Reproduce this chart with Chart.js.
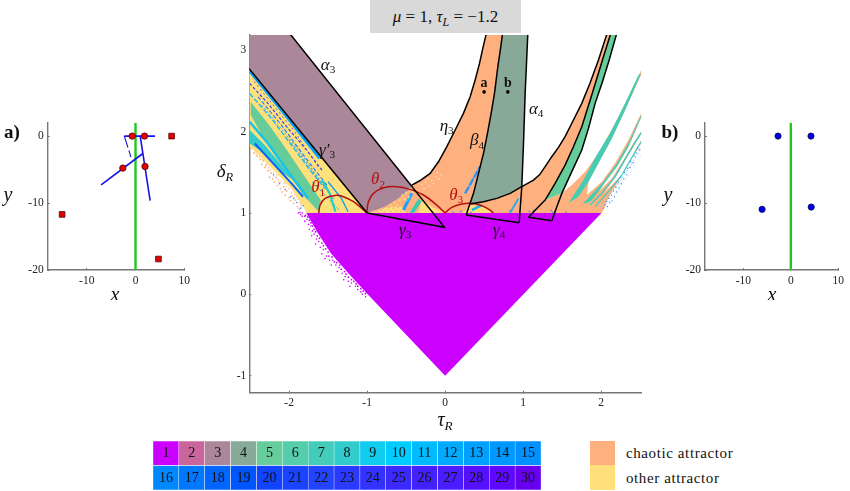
<!DOCTYPE html>
<html><head><meta charset="utf-8">
<script src="https://cdn.jsdelivr.net/npm/chart.js@4"></script>
<style>
html,body{margin:0;padding:0;background:#fff;width:850px;height:491px;overflow:hidden}
canvas{position:absolute;display:block}
.t{position:absolute;font-family:"Liberation Serif",serif;color:#111;white-space:nowrap}
#title{left:370px;top:0;width:151px;height:33px;background:#d9d9d9;font-size:17px;line-height:33px;text-align:center}
#title sub{font-size:12px;line-height:0}
</style></head><body>
<div class="t" id="title"><i>μ</i> = 1, <i>τ<sub>L</sub></i> = −1.2</div>
<canvas id="main" width="450" height="440" style="left:200px;top:0"></canvas>
<canvas id="pa" width="200" height="200" style="left:0;top:100px"></canvas>
<canvas id="pb" width="200" height="200" style="left:650px;top:100px"></canvas>
<canvas id="cells" width="388" height="49" style="left:153px;top:441px"></canvas>
<canvas id="swatch" width="25" height="49" style="left:590px;top:441px"></canvas>
<div class="t" style="left:626px;top:444px;font-size:15px;letter-spacing:.6px;line-height:18px">chaotic attractor</div>
<div class="t" style="left:626px;top:469px;font-size:15px;letter-spacing:.6px;line-height:18px">other attractor</div>
<script>
// ---------- legend
const cellRow1 = [1,2,3,4,5,6,7,8,9,10,11,12,13,14,15];
const cellRow2 = [16,17,18,19,20,21,22,23,24,25,26,27,28,29,30];
const colorsRow1 = ['#cc00ff','#c9669c','#aa8899','#88aa99','#66cc99','#55ccaa','#44ccbb','#33cccc','#11ccee','#00ccff','#00bbff','#00aaff','#00a0ff','#0099ff','#0090ff'];
const colorsRow2 = ['#0088ff','#0077ff','#0066ff','#0055ff','#1144ff','#1a44ff','#2244ff','#2a3aff','#3333ff','#3a2aff','#4422ff','#4a1cff','#5511ff','#5e08ff','#6600ee'];
const ORANGE='#ffb07f', YELLOW='#ffe07a', MAUVE='#aa8799', SAGE='#88a898', GREEN='#66cc99', TEAL='#44ccb4', PURPLE='#cc00ff';
// ---------- axes
const tauTicks=[-2,-1,0,1,2], deltaTicks=[-1,0,1,2,3];
const xTicksPanel=[-10,0,10], yTicksPanel=[-20,-10,0];
// ---------- boundary curves [tau, delta]
const curveGammaPrime=[[-2.52,2.785],[-1,1]];
const curveAlpha3=[[-1.985,3.2],[-.008,.824],[-1,1]];
const curveEta=[[-.427,1.344],[-.32,1.4],[-.192,1.488],[-.085,1.631],[.022,1.816],[.129,2.021],[.235,2.226],[.321,2.431],[.385,2.636],[.441,2.841],[.483,3.025],[.526,3.2]];
const curveBeta=[[.27,.975],[.312,1.098],[.364,1.242],[.428,1.488],[.492,1.734],[.543,1.98],[.59,2.226],[.633,2.472],[.676,2.8],[.714,3.046],[.735,3.2]];
const curveAlpha4=[[.949,.881],[.983,1.324],[1.005,1.857],[1.026,2.472],[1.047,2.923],[1.06,3.2]];
const curveOne=[[.321,1.111],[.492,1.14],[.663,1.18],[.834,1.242],[.983,1.324],[1.133,1.406],[1.21,1.47],[1.282,1.57],[1.367,1.693],[1.453,1.808],[1.538,1.939],[1.645,2.144],[1.752,2.349],[1.859,2.603],[1.966,2.882],[2.073,3.2]];
const curveTwo=[[1.069,.947],[1.175,1.055],[1.282,1.16],[1.41,1.365],[1.538,1.59],[1.645,1.816],[1.752,2.062],[1.88,2.451],[2.017,2.882],[2.12,3.2]];
const curveThree=[[1.368,.906],[1.432,1.078],[1.496,1.242],[1.624,1.509],[1.752,1.775],[1.838,2.041],[1.923,2.349],[2.017,2.615],[2.103,2.882],[2.197,3.2]];
const baseGamma4=[[.27,.975],[.949,.881]];
const baseTrapezoid=[[1.069,.947],[1.368,.906]];
const arcTheta1=[[-1.619,1],[-1.602,1.098],[-1.538,1.18],[-1.41,1.217],[-1.303,1.201],[-1.175,1.139],[-1.068,1.058],[-1.004,1]];
const arcTheta2=[[-1.004,1],[-.983,1.139],[-.919,1.242],[-.79,1.312],[-.619,1.324],[-.449,1.291],[-.278,1.222],[-.107,1.098],[0,1]];
const arcTheta3=[[0,1],[.086,1.07],[.214,1.111],[.342,1.119],[.47,1.09],[.556,1.049],[.62,1]];
const pointsAB=[[.5,2.49],[.804,2.49]];
// ---------- main regions
const regionPurple=[[-1.78,1],[2.005,1],[0,-1],[-.98,-.01],[-1.24,.26],[-1.46,.5],[-1.63,.75]];
const regionWedge=[[-2.513,2.771],[-1,1],[-1.778,1],[-1.82,1.09],[-1.97,1.3],[-2.27,1.6],[-2.505,1.82]];
const edgeMauve=[[-1,1],[-.77,1.077],[-.6,1.18],[-.43,1.31]];
const regionMauve=[[-2.52,3.2],[-1.985,3.2],[-.427,1.344],[-.43,1.31],[-.6,1.18],[-.77,1.077],[-1,1],[-2.52,2.785]];
const regionOrangeA=edgeMauve.concat(curveEta,curveBeta.slice(1).reverse(),[[.29,1]]);
const regionOrangeB=[[.29,1]].concat(curveOne,curveTwo.slice(1).reverse(),[[1.115,1]]);
const regionSage=curveOne.slice(0,5).concat(curveAlpha4.slice(2),curveBeta.slice(2).reverse());
const regionGreen=curveTwo.slice(2).concat(curveThree.slice(2).reverse());
const regionFan=[[1.115,1],[1.282,1.16],[1.496,1.242],[1.624,1.344],[1.795,1.509],[1.966,1.734],[2.179,2.103],[2.35,2.431],[2.513,2.759],[2.513,2.697],[2.308,2.267],[2.137,1.918],[1.987,1.652],[1.838,1.385],[1.816,1.221],[2.009,1.385],[2.179,1.611],[2.35,1.898],[2.513,2.226],[2.513,2.177],[2.35,1.816],[2.201,1.57],[2.073,1.406],[1.966,1.262],[2.137,1.426],[2.286,1.652],[2.414,1.857],[2.513,2],[2.513,1.972],[2.35,1.714],[2.201,1.467],[2.051,1.262],[2.265,1.467],[2.513,1.898],[2.513,1.857],[2.115,1.221],[2.009,1]];
const regionTealA=[[1.581,1.119],[1.709,1.201],[1.838,1.385],[1.987,1.652],[2.137,1.918],[2.308,2.267],[2.513,2.718],[2.479,2.697],[2.286,2.308],[2.115,1.98],[1.944,1.714],[1.773,1.406]];
const regionTealB=[[1.761,1.107],[1.859,1.209],[2.03,1.385],[2.188,1.591],[2.35,1.857],[2.513,2.205],[2.513,2.177],[2.35,1.816],[2.201,1.57],[2.073,1.406],[1.966,1.262],[1.859,1.139]];
const regionBandGreen=[[-2.492,2.369],[-2.27,2.102],[-2.013,1.754],[-1.799,1.446],[-1.594,1.159],[-1.62,1.016],[-1.799,1.2],[-2.056,1.549],[-2.312,1.897],[-2.492,2.205]];
const regionBandTeal=[[-2.505,2.02],[-2.312,1.836],[-2.099,1.59],[-1.949,1.405],[-2.099,1.508],[-2.312,1.733],[-2.505,1.856]];
const patchYellowA=[[-.941,1],[-.727,1.077],[-.556,1.077],[-.492,1]];
const patchYellowB=[[-.342,1],[-.299,1.16],[-.171,1.077],[-.009,1]];
const patchYellowC=[[.213,1],[.342,1.098],[.491,1.077],[.62,1]];
// ---------- streaks
const streakTop=[[-2.505,2.746],[-2.27,2.471],[-2.013,2.164],[-1.757,1.856],[-1.607,1.672]];
const streakDashA=[[-2.505,2.594],[-2.27,2.348],[-2.013,2.041],[-1.757,1.754],[-1.564,1.508]];
const streakDashB=[[-2.45,2.62],[-1.95,2.03],[-1.62,1.56]];
const streakDashC=[[-2.35,2.33],[-1.9,1.8],[-1.5,1.27]];
const streakDashD=[[-1.7,1.38],[-1.35,1.03]];
const streakDashE=[[-2.0,1.9],[-1.65,1.45],[-1.42,1.17]];
const streakCyanA=[[-2.505,2.471],[-2.227,2.164],[-1.97,1.836],[-1.714,1.508],[-1.543,1.303]];
const streakBlueA=[[-2.398,2.43],[-2.099,2.082],[-1.799,1.692],[-1.5,1.323]];
const streakCyanB=[[-2.505,2.123],[-2.27,1.856],[-2.013,1.508],[-1.757,1.18]];
const streakBlueB=[[-2.44,1.856],[-2.184,1.59],[-1.97,1.364],[-1.821,1.2]];
const streakArcA=[[-1.577,1.405],[-1.479,1.241],[-1.406,1.016]];
const streakArcB=[[-1.5,1.385],[-1.329,1.18],[-1.244,1.016]];
const streakMidTeal=[[-.428,1],[-.321,1.16]];
const streakMidBlue=[[-.534,1.037],[-.428,1.241]];
const streakMidCyan=[[-.49,1.14],[-.45,1.22]];
const streakOrangeBlue=[[.256,1.241],[.448,1.57]];
const streakOrangeBlue2=[[.833,1],[.94,1.18]];
const streakUnderArc=[[.342,1.036],[.47,1.098]];
const streakFanC=[[1.859,1.098],[2.009,1.242],[2.179,1.447],[2.35,1.734],[2.513,1.988]];
const streakFanD=[[1.923,1.078],[2.094,1.262],[2.265,1.467],[2.436,1.755],[2.513,1.877]];
const streakFanE=[[1.987,1.078],[2.158,1.283],[2.329,1.509],[2.513,1.795]];
const streakFanF=[[2.03,1.06],[2.2,1.26],[2.36,1.48],[2.513,1.72]];
// ---------- speckle
const speckPurple=[[-1.88,1],[-1.85,.98],[-1.83,.96],[-1.86,1.01],[-1.83,1],[-1.8,.96],[-1.77,.92],[-1.75,.86],[-1.8,.9],[-1.72,.84],[-1.74,.8],[-1.7,.78],[-1.68,.74],[-1.71,.72],[-1.65,.68],[-1.62,.65],[-1.66,.62],[-1.6,.58],[-1.56,.55],[-1.58,.5],[-1.52,.47],[-1.54,.44],[-1.48,.42],[-1.44,.42],[-1.46,.36],[-1.4,.36],[-1.36,.33],[-1.38,.28],[-1.32,.26],[-1.28,.22],[-1.3,.18],[-1.24,.16],[-1.2,.14],[-1.22,.1],[-1.15,.1],[-1.12,.06],[-1.08,.03],[-1.06,0],[-1.02,-.03]];
const speckPurpleNear=[[-1.79,.97],[-1.76,.95],[-1.74,.91],[-1.72,.88],[-1.7,.84],[-1.68,.8],[-1.66,.77],[-1.64,.72],[-1.61,.69],[-1.58,.63],[-1.56,.6],[-1.53,.56],[-1.5,.52],[-1.49,.47],[-1.45,.46],[-1.42,.4],[-1.39,.39],[-1.35,.36],[-1.33,.31],[-1.29,.28],[-1.27,.25],[-1.24,.21],[-1.2,.18],[-1.17,.16],[-1.14,.13],[-1.12,.1],[-1.08,.07],[-1.05,.04],[-1.02,.01]];
const speckOrange=[[-2.49,1.8],[-2.47,1.84],[-2.45,1.74],[-2.43,1.78],[-2.41,1.7],[-2.39,1.75],[-2.37,1.66],[-2.35,1.6],[-2.33,1.64],[-2.31,1.56],[-2.29,1.6],[-2.27,1.52],[-2.25,1.44],[-2.23,1.49],[-2.21,1.42],[-2.19,1.38],[-2.17,1.44],[-2.15,1.34],[-2.13,1.38],[-2.11,1.3],[-2.09,1.26],[-2.07,1.32],[-2.05,1.22],[-2.03,1.27],[-2,1.19],[-1.98,1.15],[-1.96,1.21],[-1.94,1.12],[-1.92,1.16],[-1.89,1.08],[-1.87,1.05],[-1.85,1.11]];
const speckOrangeUpper=[[-2.48,1.79],[-2.44,1.75],[-2.42,1.72],[-2.38,1.69],[-2.34,1.66],[-2.3,1.58],[-2.26,1.56],[-2.24,1.53],[-2.2,1.5],[-2.16,1.47],[-2.14,1.41],[-2.1,1.39],[-2.06,1.37],[-2.04,1.33],[-2,1.3],[-1.97,1.25],[-1.93,1.23],[-1.91,1.2],[-1.88,1.17],[-1.86,1.13],[-1.84,1.09]];
const speckBlueLeft=[[-2.2,1.47],[-2.12,1.36],[-2.05,1.29],[-1.98,1.2],[-1.94,1.18],[-1.9,1.13],[-1.85,1.06],[-1.82,1.09],[.33,1.01],[.2,1.02],[.6,1.01],[1.08,1.02],[1.13,1.03],[1.36,1.03],[1.38,1.01],[1.55,1.01],[.1,1.01],[.83,1.03]];
const speckFan=[[2.03,1.06],[2.05,1.1],[2.08,1.08],[2.07,1.14],[2.11,1.13],[2.1,1.18],[2.14,1.15],[2.13,1.22],[2.17,1.2],[2.16,1.27],[2.2,1.26],[2.19,1.32],[2.23,1.31],[2.22,1.38],[2.26,1.36],[2.25,1.44],[2.29,1.42],[2.3,1.5],[2.33,1.47],[2.34,1.55],[2.37,1.56],[2.38,1.63],[2.41,1.62],[2.43,1.7],[2.45,1.74],[2.47,1.8],[2.49,1.78]];
const speckPale=[[-.3,1.35],[-.27,1.3],[-.25,1.38],[-.2,1.33],[-.22,1.42],[-.17,1.4],[-.15,1.36],[-.12,1.45],[-.1,1.5],[-.08,1.42],[-.05,1.47]];
const speckYellow=[[-.75,1.05],[-.7,1.1],[-.65,1.13],[-.62,1.1],[-.58,1.16],[-.55,1.22],[-.52,1.17],[-.5,1.25],[-.47,1.2],[-.45,1.3],[-.42,1.26]];
const speckMidOrange=[[-.88,1.02],[-.82,1.04],[-.78,1.01],[-.74,1.05],[-.7,1.02],[-.66,1.06],[-.62,1.03],[-.6,1.07],[-.57,1.02],[-.54,1.05],[-.51,1.03],[-.85,1.01],[-.72,1.07]];
// ---------- panel a / b
const xAxisLineA=[[0,-20],[0,2]];
const panelACircles=[[-.68,0],[1.85,0],[-2.6,-4.78],[1.95,-4.53]];
const panelASquares=[[7.4,0],[-15.05,-11.7],[4.7,-18.36]];
const panelASegH=[[-2.3,0],[4,0]];
const panelASegThin=[[-2.3,0],[-.74,-3.58]];
const panelASegLong=[[-7.05,-7.3],[1.5,-2.6]];
const panelASegSteep=[[.96,0],[3,-9.65]];
const panelBPoints=[[-2.7,0],[4.25,0],[-6.06,-10.94],[4.3,-10.6]];
// ---------- annotations [text, subscript, tau, delta, colour, size]
const mainLabels=[
 ['α','3',-1.5,2.82,'#111',17],['γ′','3',-1.513,1.775,'#111',17],['θ','1',-1.628,1.308,'#b51010',17],
 ['θ','2',-.859,1.406,'#b51010',17],['γ','3',-.513,.79,'#111',17],['η','3',.02,2.07,'#111',17],
 ['β','4',.41,1.886,'#111',17],['α','4',1.167,2.279,'#111',17],['γ','4',.692,.79,'#111',17],['θ','3',.141,1.221,'#b51010',17]];
const pointLabels=[['a',.5,2.6],['b',.804,2.6]];

const SERIF='"Liberation Serif",serif';
const pts=a=>a.map(p=>({x:p[0],y:p[1]}));
const poly=(a,c)=>({data:pts(a),showLine:true,fill:'shape',backgroundColor:c,borderWidth:0,pointRadius:0,tension:0});
const line=(a,c,w,dash,t)=>({data:pts(a),showLine:true,fill:false,borderColor:c,borderWidth:w,borderDash:dash||[],pointRadius:0,tension:t||0});
const speck=(a,c,r)=>({data:pts(a),showLine:false,backgroundColor:c,borderWidth:0,pointRadius:r||.7,pointHoverRadius:0});

function sub(ctx,x,y,base,s,size,color,italicSub){
  ctx.save();ctx.fillStyle=color;ctx.textBaseline='middle';ctx.textAlign='left';
  ctx.font='italic '+size+'px '+SERIF;const w=ctx.measureText(base).width;
  const subFont=(italicSub?'italic ':'')+(size*.66)+'px '+SERIF;
  ctx.font=subFont;const w2=ctx.measureText(s).width;
  const x0=x-(w+w2)/2;
  ctx.font='italic '+size+'px '+SERIF;ctx.fillText(base,x0,y);
  ctx.font=subFont;ctx.fillText(s,x0+w,y+size*.3);
  ctx.restore();
}
function axes(xr,yr,xt,yt,yW,xH,pad,tl,fs){
  const sc=(r,t,extra)=>Object.assign({type:'linear',min:r[0],max:r[1],
    afterBuildTicks(s){s.ticks=t.map(v=>({value:v}));},
    border:{color:'#777',width:1.4},
    grid:{drawOnChartArea:false,drawTicks:true,tickLength:-tl,tickColor:'#777',tickWidth:1},
    },extra);
  return {
    x:sc(xr,xt,{afterFit(s){s.height=xH;},ticks:{color:'#222',font:{family:SERIF,size:fs},padding:pad+tl,autoSkip:false,maxRotation:0,callback:v=>String(v)}}),
    y:sc(yr,yt,{afterFit(s){s.width=yW;},ticks:{color:'#222',font:{family:SERIF,size:fs},padding:pad+tl,autoSkip:false,callback:v=>String(v)}})
  };
}
const base={responsive:false,animation:false,events:[],plugins:{legend:{display:false},tooltip:{enabled:false}}};
const order=d=>d.map((o,i)=>Object.assign(o,{order:-i}));

// ---------- main chart
new Chart(document.getElementById('main'),{type:'scatter',
 data:{datasets:order([
  speck(speckOrange,ORANGE,.9),speck(speckOrangeUpper,'#ffc7a0',.9),
  poly(regionPurple,PURPLE),speck(speckPurple,PURPLE,.8),speck(speckPurpleNear,PURPLE,.9),
  poly(regionWedge,YELLOW),
  poly(regionOrangeA,ORANGE),poly(regionOrangeB,ORANGE),poly(regionFan,ORANGE),
  poly(regionTealA,TEAL),poly(regionTealB,TEAL),
  line(streakFanC,TEAL,1.5),line(streakFanD,'#33cccc',1.1),line(streakFanE,'#55ddee',.8,[2,2]),line(streakFanF,'#88ddff',.7,[1,3]),
  speck(speckFan,'#3388ff',.7),
  poly(patchYellowA,YELLOW),poly(patchYellowB,YELLOW),poly(patchYellowC,YELLOW),speck(speckMidOrange,ORANGE,.9),
  poly(regionBandGreen,GREEN),poly(regionBandTeal,'#33cccc'),
  line(streakTop,'#00a4ff',3),line(streakDashA,'#3344ee',1.2,[3,2]),line(streakDashB,'#5544ee',.9,[2,3]),line(streakDashC,'#33aaff',1,[2,2]),line(streakDashD,'#22bbdd',1,[3,2]),line(streakDashE,'#2288ee',.9,[2,2]),line(streakCyanA,'#11bbee',1.3,[5,2]),
  line(streakBlueA,'#2277ff',1.1,[4,2]),line(streakCyanB,'#18c4e8',2.6),line(streakBlueB,'#0a60ff',2),
  line(streakArcA,'#22cccc',2.2),line(streakArcB,'#0aa0ee',1.3),
  line(streakMidTeal,'#33ccb4',4),line(streakMidBlue,'#2299ff',3),line(streakMidCyan,'#33ccee',2),
  line(streakOrangeBlue,'#2299ff',2.4,[8,1]),line(streakOrangeBlue2,'#33aaee',2),line(streakUnderArc,'#1fb5e8',2.4),
  speck(speckBlueLeft,'#3388ff',.8),speck(speckPale,'#ffe3c8',.8),
  poly(regionMauve,MAUVE),speck(speckYellow,YELLOW,.9),
  poly(regionSage,SAGE),poly(regionGreen,GREEN),
  line(arcTheta1,'#b51010',1.5,null,.4),line(arcTheta2,'#b51010',1.5,null,.4),line(arcTheta3,'#b51010',1.5,null,.4),
  line(curveGammaPrime,'#000',1.5),line(curveAlpha3,'#000',1.5),line(curveEta,'#000',1.5),
  line(curveBeta,'#000',1.5),line(curveAlpha4,'#000',1.5),line(baseGamma4,'#000',1.5),line(curveOne,'#000',1.5),
  line(curveTwo,'#000',1.5),line(curveThree,'#000',1.5),line(baseTrapezoid,'#000',1.5),
  speck(pointsAB,'#000',1.8)
 ])},
 options:Object.assign({},base,{
  layout:{padding:{left:0,right:8.3,top:35,bottom:0}},
  scales:axes([-2.51,2.52],[-1.21,3.19],tauTicks,deltaTicks,49.3,47.3,3,2,11.5)
 }),
 plugins:[{id:'mainLabels',afterDraw(c){
   const x=c.scales.x,y=c.scales.y,ctx=c.ctx;
   mainLabels.forEach(l=>sub(ctx,x.getPixelForValue(l[2]),y.getPixelForValue(l[3]),l[0],l[1],l[5],l[4]));
   ctx.save();ctx.fillStyle='#111';ctx.textAlign='center';ctx.textBaseline='middle';ctx.font='bold 14px '+SERIF;
   pointLabels.forEach(l=>ctx.fillText(l[0],x.getPixelForValue(l[1]),y.getPixelForValue(l[2])));
   ctx.restore();
   sub(ctx,245,421,'τ','R',20,'#111',true);
   sub(ctx,25,172,'δ','R',19,'#111',true);
 }}]
});

// ---------- panels
function panelLabels(letter,lx,xCx,yCx){return {id:'pl'+letter,afterDraw(c){
  const ctx=c.ctx;ctx.save();ctx.fillStyle='#111';ctx.textBaseline='middle';ctx.textAlign='center';
  ctx.font='italic 20px '+SERIF;ctx.fillText('x',xCx,196);ctx.fillText('y',yCx,96);
  ctx.font='bold 19px '+SERIF;ctx.fillText(letter+')',lx,33);ctx.restore();
}};}
new Chart(document.getElementById('pa'),{type:'scatter',
 data:{datasets:order([
  line(xAxisLineA,'#1ec81e',2.4),
  line(panelASegH,'#1414e6',1.6),line(panelASegThin,'#1414e6',1.1,[12,3,7,99]),line(panelASegLong,'#1414e6',1.6),line(panelASegSteep,'#1414e6',1.6),
  {data:pts(panelASquares),showLine:false,pointStyle:'rect',pointRadius:4,backgroundColor:'#e00000',borderColor:'#500',borderWidth:.8},
  {data:pts(panelACircles),showLine:false,pointRadius:3.2,backgroundColor:'#e60000',borderColor:'#500',borderWidth:.8}
 ])},
 options:Object.assign({},base,{layout:{padding:{left:0,right:15.7,top:22.7,bottom:0}},
  scales:axes([-18,10],[-20,2],xTicksPanel,yTicksPanel,47.7,30,4,2,11.5)}),
 plugins:[panelLabels('a',12,115,8)]
});
new Chart(document.getElementById('pb'),{type:'scatter',
 data:{datasets:order([
  line(xAxisLineA,'#1ec81e',2.4),
  {data:pts(panelBPoints),showLine:false,pointRadius:3.1,backgroundColor:'#0000e6',borderColor:'#000055',borderWidth:.8}
 ])},
 options:Object.assign({},base,{layout:{padding:{left:0,right:9,top:22.7,bottom:0}},
  scales:axes([-18.1,10],[-20,2],xTicksPanel,yTicksPanel,55,30,4,2,11.5)}),
 plugins:[panelLabels('b',20,122,18)]
});

// ---------- colour table
const hidden={x:{display:false,stacked:true,offset:true,grid:{display:false}},y:{display:false,stacked:true,min:0,max:2}};
const white={borderColor:'#fff',borderWidth:.5,borderSkipped:false,barPercentage:1,categoryPercentage:1};
new Chart(document.getElementById('cells'),{type:'bar',
 data:{labels:cellRow1.map(String),datasets:[
  Object.assign({data:cellRow2.map(()=>1),backgroundColor:colorsRow2},white),
  Object.assign({data:cellRow1.map(()=>1),backgroundColor:colorsRow1},white)]},
 options:Object.assign({},base,{scales:hidden}),
 plugins:[{id:'cellText',afterDraw(c){
  const x=c.scales.x,y=c.scales.y,ctx=c.ctx;ctx.save();ctx.fillStyle='#111';ctx.textAlign='center';ctx.textBaseline='middle';ctx.font='14px '+SERIF;
  cellRow1.forEach((v,i)=>ctx.fillText(String(v),x.getPixelForValue(i),y.getPixelForValue(1.5)+.5));
  cellRow2.forEach((v,i)=>ctx.fillText(String(v),x.getPixelForValue(i),y.getPixelForValue(.5)+.5));
  ctx.restore();}}]
});
new Chart(document.getElementById('swatch'),{type:'bar',
 data:{labels:['attractor'],datasets:[
  {data:[1],backgroundColor:YELLOW,barPercentage:1,categoryPercentage:1},
  {data:[1],backgroundColor:ORANGE,barPercentage:1,categoryPercentage:1}]},
 options:Object.assign({},base,{scales:hidden})
});
</script></body></html>
